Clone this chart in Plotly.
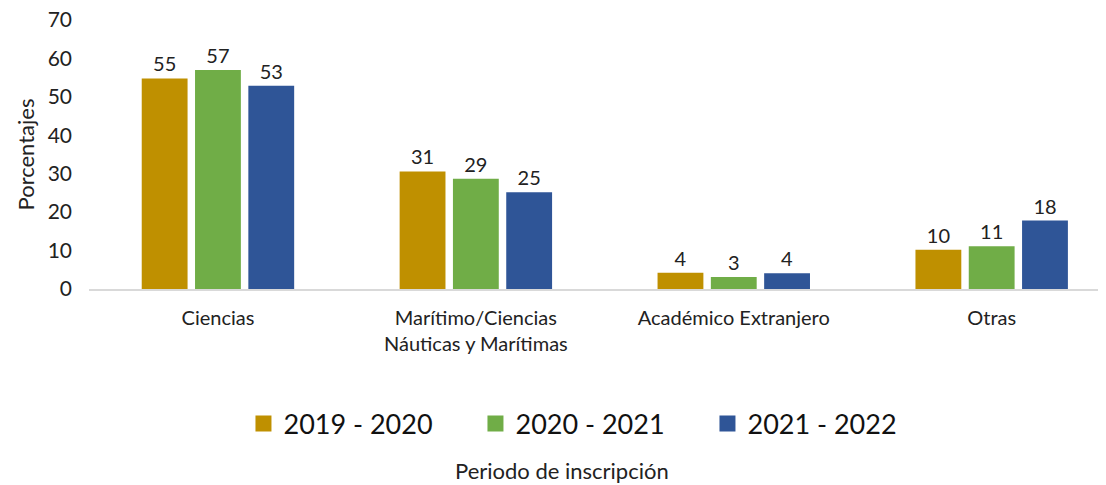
import plotly.graph_objects as go

# Data
categories = [
    "Ciencias",
    "Marítimo/Ciencias<br>Náuticas y Marítimas",
    "Académico Extranjero",
    "Otras",
]
periods = ["2019 - 2020", "2020 - 2021", "2021 - 2022"]
values_2019 = [54.8, 30.6, 4.2, 10.2]
values_2020 = [57.0, 28.7, 3.1, 11.1]
values_2021 = [52.9, 25.2, 4.1, 17.8]
labels_2019 = ["55", "31", "4", "10"]
labels_2020 = ["57", "29", "3", "11"]
labels_2021 = ["53", "25", "4", "18"]

colors = ["#BF9000", "#70AD47", "#2F5597"]
FONT = "Lato, 'Open Sans', sans-serif"

fig = go.Figure()
for name, vals, labs, col in zip(
    periods,
    [values_2019, values_2020, values_2021],
    [labels_2019, labels_2020, labels_2021],
    colors,
):
    fig.add_trace(
        go.Bar(
            x=categories,
            y=vals,
            name=name,
            marker=dict(color=col, line=dict(width=0)),
            text=labs,
            textposition="outside",
            textfont=dict(size=20, color="#222222", family=FONT),
            cliponaxis=False,
            hoverinfo="skip",
            showlegend=False,
        )
    )
    # legend-only entry with a bigger square swatch
    fig.add_trace(
        go.Scatter(
            x=[None],
            y=[None],
            mode="markers",
            name=name,
            marker=dict(symbol="square", size=18, color=col),
            hoverinfo="skip",
        )
    )

# page body adds an 8px offset, so margins are shifted to compensate
fig.update_layout(
    width=1106,
    height=485,
    margin=dict(l=81, r=14, t=12, b=204, autoexpand=False),
    paper_bgcolor="white",
    plot_bgcolor="white",
    font=dict(family=FONT, color="#222222"),
    barmode="group",
    bargap=0.38,
    bargroupgap=0.14,
    showlegend=True,
    legend=dict(
        orientation="h",
        x=0.497,
        xanchor="center",
        y=-0.502,
        yanchor="middle",
        font=dict(size=27, color="#111111"),
        itemsizing="trace",
        itemwidth=30,
        entrywidth=187,
        entrywidthmode="pixels",
        traceorder="normal",
    ),
)

fig.update_xaxes(
    range=[-0.5, 3.42],
    showline=True,
    linecolor="#D9D9D9",
    linewidth=2,
    ticks="",
    ticklabelstandoff=10,
    tickfont=dict(size=20, color="#222222"),
    showgrid=False,
)
fig.update_yaxes(
    range=[0, 70],
    tickvals=[0, 10, 20, 30, 40, 50, 60, 70],
    showgrid=False,
    zeroline=False,
    showline=False,
    ticklabelstandoff=16,
    ticklabeloverflow="allow",
    tickfont=dict(size=21, color="#222222"),
    title=dict(text="Porcentajes", font=dict(size=22, color="#222222"), standoff=6),
)

fig.add_annotation(
    text="Periodo de inscripción",
    xref="paper",
    yref="paper",
    x=0.468,
    y=-0.673,
    xanchor="center",
    yanchor="middle",
    showarrow=False,
    font=dict(size=22, color="#222222"),
)

fig.write_html("out.html")
